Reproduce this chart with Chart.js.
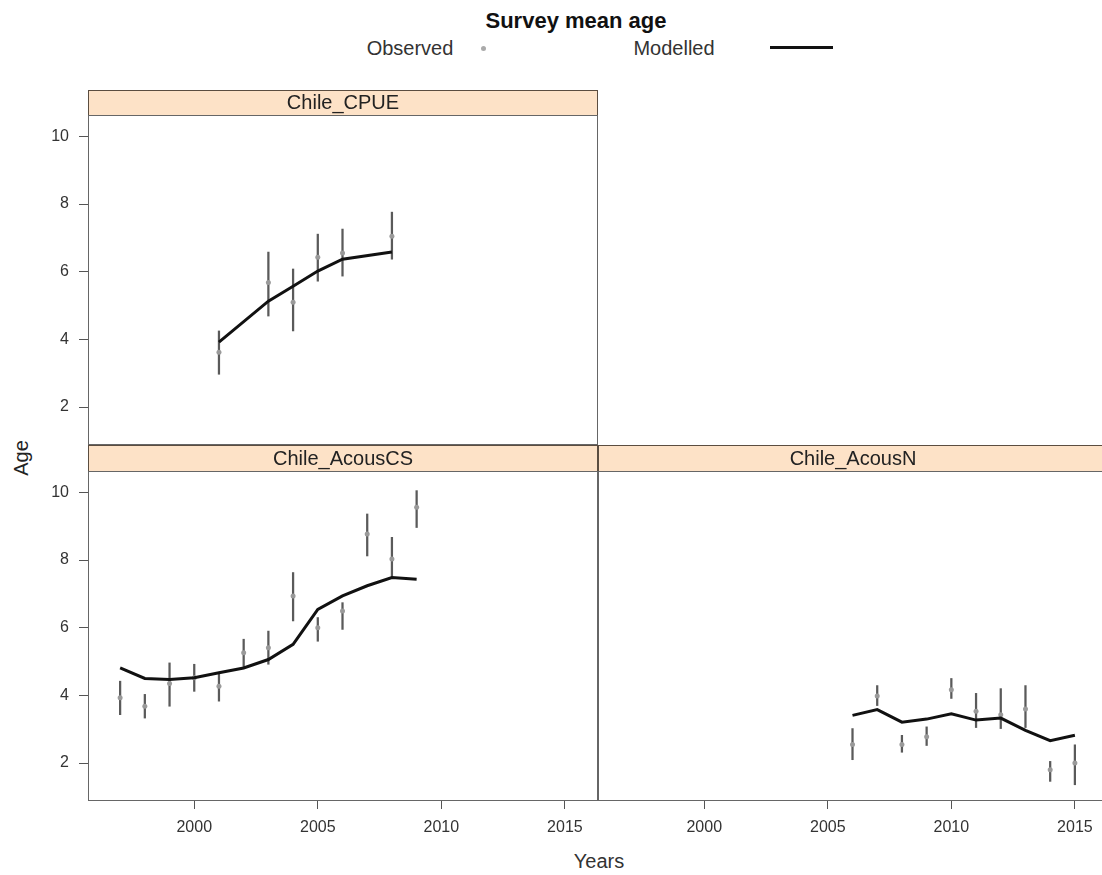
<!DOCTYPE html>
<html>
<head>
<meta charset="utf-8">
<title>Survey mean age</title>
<script src="https://cdn.jsdelivr.net/npm/chart.js@4.4.1/dist/chart.umd.min.js"></script>
<style>
  html, body { margin: 0; padding: 0; background: #fff; overflow: hidden; }
  #page { position: relative; width: 1102px; height: 875px; overflow: hidden;
          font-family: "Liberation Sans", Arial, sans-serif; color: #222; }
  canvas { position: absolute; }
  .txt { position: absolute; white-space: nowrap; line-height: 1; transform: translate(-50%, -50%); }
</style>
</head>
<body>
<div id="page">
  <div class="txt" style="left:576px; top:21px; font-size:22px; font-weight:bold; color:#111;">Survey mean age</div>
  <div class="txt" style="left:410px; top:48px; font-size:20px; color:#333;">Observed</div>
  <div style="position:absolute; left:481px; top:46px; width:5px; height:5px; border-radius:50%; background:#aaa;"></div>
  <div class="txt" style="left:674px; top:48px; font-size:20px; color:#333;">Modelled</div>
  <div style="position:absolute; left:770px; top:46px; width:63px; height:3px; background:#111;"></div>
  <div class="txt" style="left:21px; top:458px; font-size:20px; color:#222; transform: translate(-50%, -50%) rotate(-90deg);">Age</div>
  <div class="txt" style="left:599px; top:861px; font-size:20px; color:#333;">Years</div>

  <canvas id="cpue" width="600" height="356" style="left:0; top:90px;"></canvas>
  <canvas id="acousCS" width="600" height="430" style="left:0; top:445px;"></canvas>
  <canvas id="acousN" width="510" height="430" style="left:598px; top:445px;"></canvas>
</div>

<script>
// panel names (strip labels) and axis ticks
const panelNames = ['Chile_CPUE', 'Chile_AcousCS', 'Chile_AcousN'];
const yearTicks = [2000, 2005, 2010, 2015];
const ageTicks = [2, 4, 6, 8, 10];

// Chile_CPUE
const cpueYears = [2001, 2003, 2004, 2005, 2006, 2008];
const cpueObserved = [3.62, 5.68, 5.10, 6.43, 6.55, 7.05];
const cpueLower = [2.97, 4.69, 4.25, 5.72, 5.87, 6.37];
const cpueUpper = [4.25, 6.58, 6.08, 7.11, 7.26, 7.76];
const cpueModelled = [3.92, 5.13, 5.57, 6.02, 6.37, 6.58];

// Chile_AcousCS
const csYears = [1997, 1998, 1999, 2000, 2001, 2002, 2003, 2004, 2005, 2006, 2007, 2008, 2009];
const csObserved = [3.93, 3.68, 4.35, 4.52, 4.27, 5.26, 5.41, 6.94, 6.00, 6.49, 8.77, 8.03, 9.56];
const csLower = [3.43, 3.33, 3.68, 4.12, 3.83, 4.81, 4.92, 6.20, 5.60, 5.95, 8.12, 7.48, 8.96];
const csUpper = [4.42, 4.03, 4.96, 4.92, 4.67, 5.66, 5.90, 7.63, 6.30, 6.74, 9.36, 8.67, 10.05];
const csModelled = [4.81, 4.50, 4.47, 4.52, 4.67, 4.81, 5.06, 5.51, 6.54, 6.94, 7.24, 7.48, 7.43];

// Chile_AcousN
const nYears = [2006, 2007, 2008, 2009, 2010, 2011, 2012, 2013, 2014, 2015];
const nObserved = [2.55, 3.98, 2.55, 2.78, 4.17, 3.53, 3.43, 3.60, 1.80, 2.00];
const nLower = [2.10, 3.70, 2.32, 2.52, 3.91, 3.05, 3.02, 3.05, 1.46, 1.36];
const nUpper = [3.02, 4.29, 2.82, 3.07, 4.50, 4.06, 4.20, 4.29, 2.05, 2.54];
const nModelled = [3.41, 3.58, 3.21, 3.30, 3.46, 3.27, 3.33, 2.97, 2.66, 2.82];

const fontFamily = '"Liberation Sans", Arial, sans-serif';
Chart.defaults.font.family = fontFamily;

// draws the lattice strip above the panel and the box round it
const panelFrame = {
    id: 'panelFrame',
    beforeDatasetsDraw(chart, args, opts) {
        const { ctx, chartArea: a } = chart;
        const h = opts.stripHeight;
        ctx.save();
        ctx.fillStyle = '#fde2c7';
        ctx.fillRect(a.left, a.top - h, a.right - a.left, h);
        ctx.strokeStyle = '#5b4d40';
        ctx.lineWidth = 1;
        ctx.strokeRect(a.left + 0.5, a.top - h + 0.5, a.right - a.left - 1, h);
        ctx.fillStyle = '#222';
        ctx.font = '20px ' + fontFamily;
        ctx.textAlign = 'center';
        ctx.textBaseline = 'middle';
        ctx.fillText(opts.label, (a.left + a.right) / 2, a.top - h / 2 + 1);
        ctx.strokeStyle = '#666';
        ctx.strokeRect(a.left + 0.5, a.top + 0.5, a.right - a.left - 1, a.bottom - a.top - 1);
        ctx.restore();
    }
};

function makePanel(id, label, years, observed, lower, upper, modelled, showX, showY, padding) {
    return new Chart(document.getElementById(id), {
        type: 'line',
        data: {
            datasets: [
                {
                    label: 'Modelled',
                    data: years.map((x, i) => ({ x, y: modelled[i] })),
                    borderColor: '#111',
                    borderWidth: 3,
                    pointRadius: 0,
                    tension: 0,
                    order: 0
                },
                {
                    label: 'Observed',
                    data: years.map((x, i) => ({ x, y: observed[i] })),
                    showLine: false,
                    pointRadius: 2.5,
                    pointBackgroundColor: '#9a9a9a',
                    pointBorderWidth: 0,
                    order: 1
                },
                {
                    type: 'bar',
                    label: 'Interval',
                    data: years.map((x, i) => ({ x, y: [lower[i], upper[i]] })),
                    backgroundColor: '#5a5a5a',
                    borderWidth: 0,
                    barThickness: 1.6,
                    order: 2
                }
            ]
        },
        options: {
            responsive: false,
            animation: false,
            devicePixelRatio: 1,
            layout: { padding, autoPadding: false },
            plugins: {
                legend: { display: false },
                tooltip: { enabled: false },
                panelFrame: { label, stripHeight: padding.top }
            },
            scales: {
                x: {
                    type: 'linear',
                    min: 1995.7,
                    max: 2016.34,
                    offset: false,
                    display: showX,
                    border: { display: false },
                    grid: { offset: false, drawOnChartArea: false, color: '#555', tickLength: 8 },
                    ticks: { color: '#333', font: { size: 16 }, padding: 9, maxRotation: 0, callback: v => v },
                    afterBuildTicks: s => { s.ticks = yearTicks.map(v => ({ value: v })); },
                    afterFit: s => {
                        if (showX) s.height = 74;
                        s.paddingLeft = 0;
                        s.paddingRight = 0;
                    }
                },
                y: {
                    type: 'linear',
                    min: 0.88,
                    max: 10.63,
                    display: showY,
                    border: { display: false },
                    grid: { drawOnChartArea: false, color: '#555', tickLength: 9 },
                    ticks: { color: '#333', font: { size: 16 }, padding: 10, callback: v => v },
                    afterBuildTicks: s => { s.ticks = ageTicks.map(v => ({ value: v })); },
                    afterFit: s => {
                        if (showY) s.width = 88;
                        s.paddingTop = 0;
                        s.paddingBottom = 0;
                    }
                }
            }
        },
        plugins: [panelFrame]
    });
}

makePanel('cpue', panelNames[0], cpueYears, cpueObserved, cpueLower, cpueUpper, cpueModelled,
    false, true, { top: 25, right: 2, bottom: 1, left: 0 });
makePanel('acousCS', panelNames[1], csYears, csObserved, csLower, csUpper, csModelled,
    true, true, { top: 26, right: 2, bottom: 0, left: 0 });
makePanel('acousN', panelNames[2], nYears, nObserved, nLower, nUpper, nModelled,
    true, false, { top: 26, right: 0, bottom: 0, left: 0 });
</script>
</body>
</html>
